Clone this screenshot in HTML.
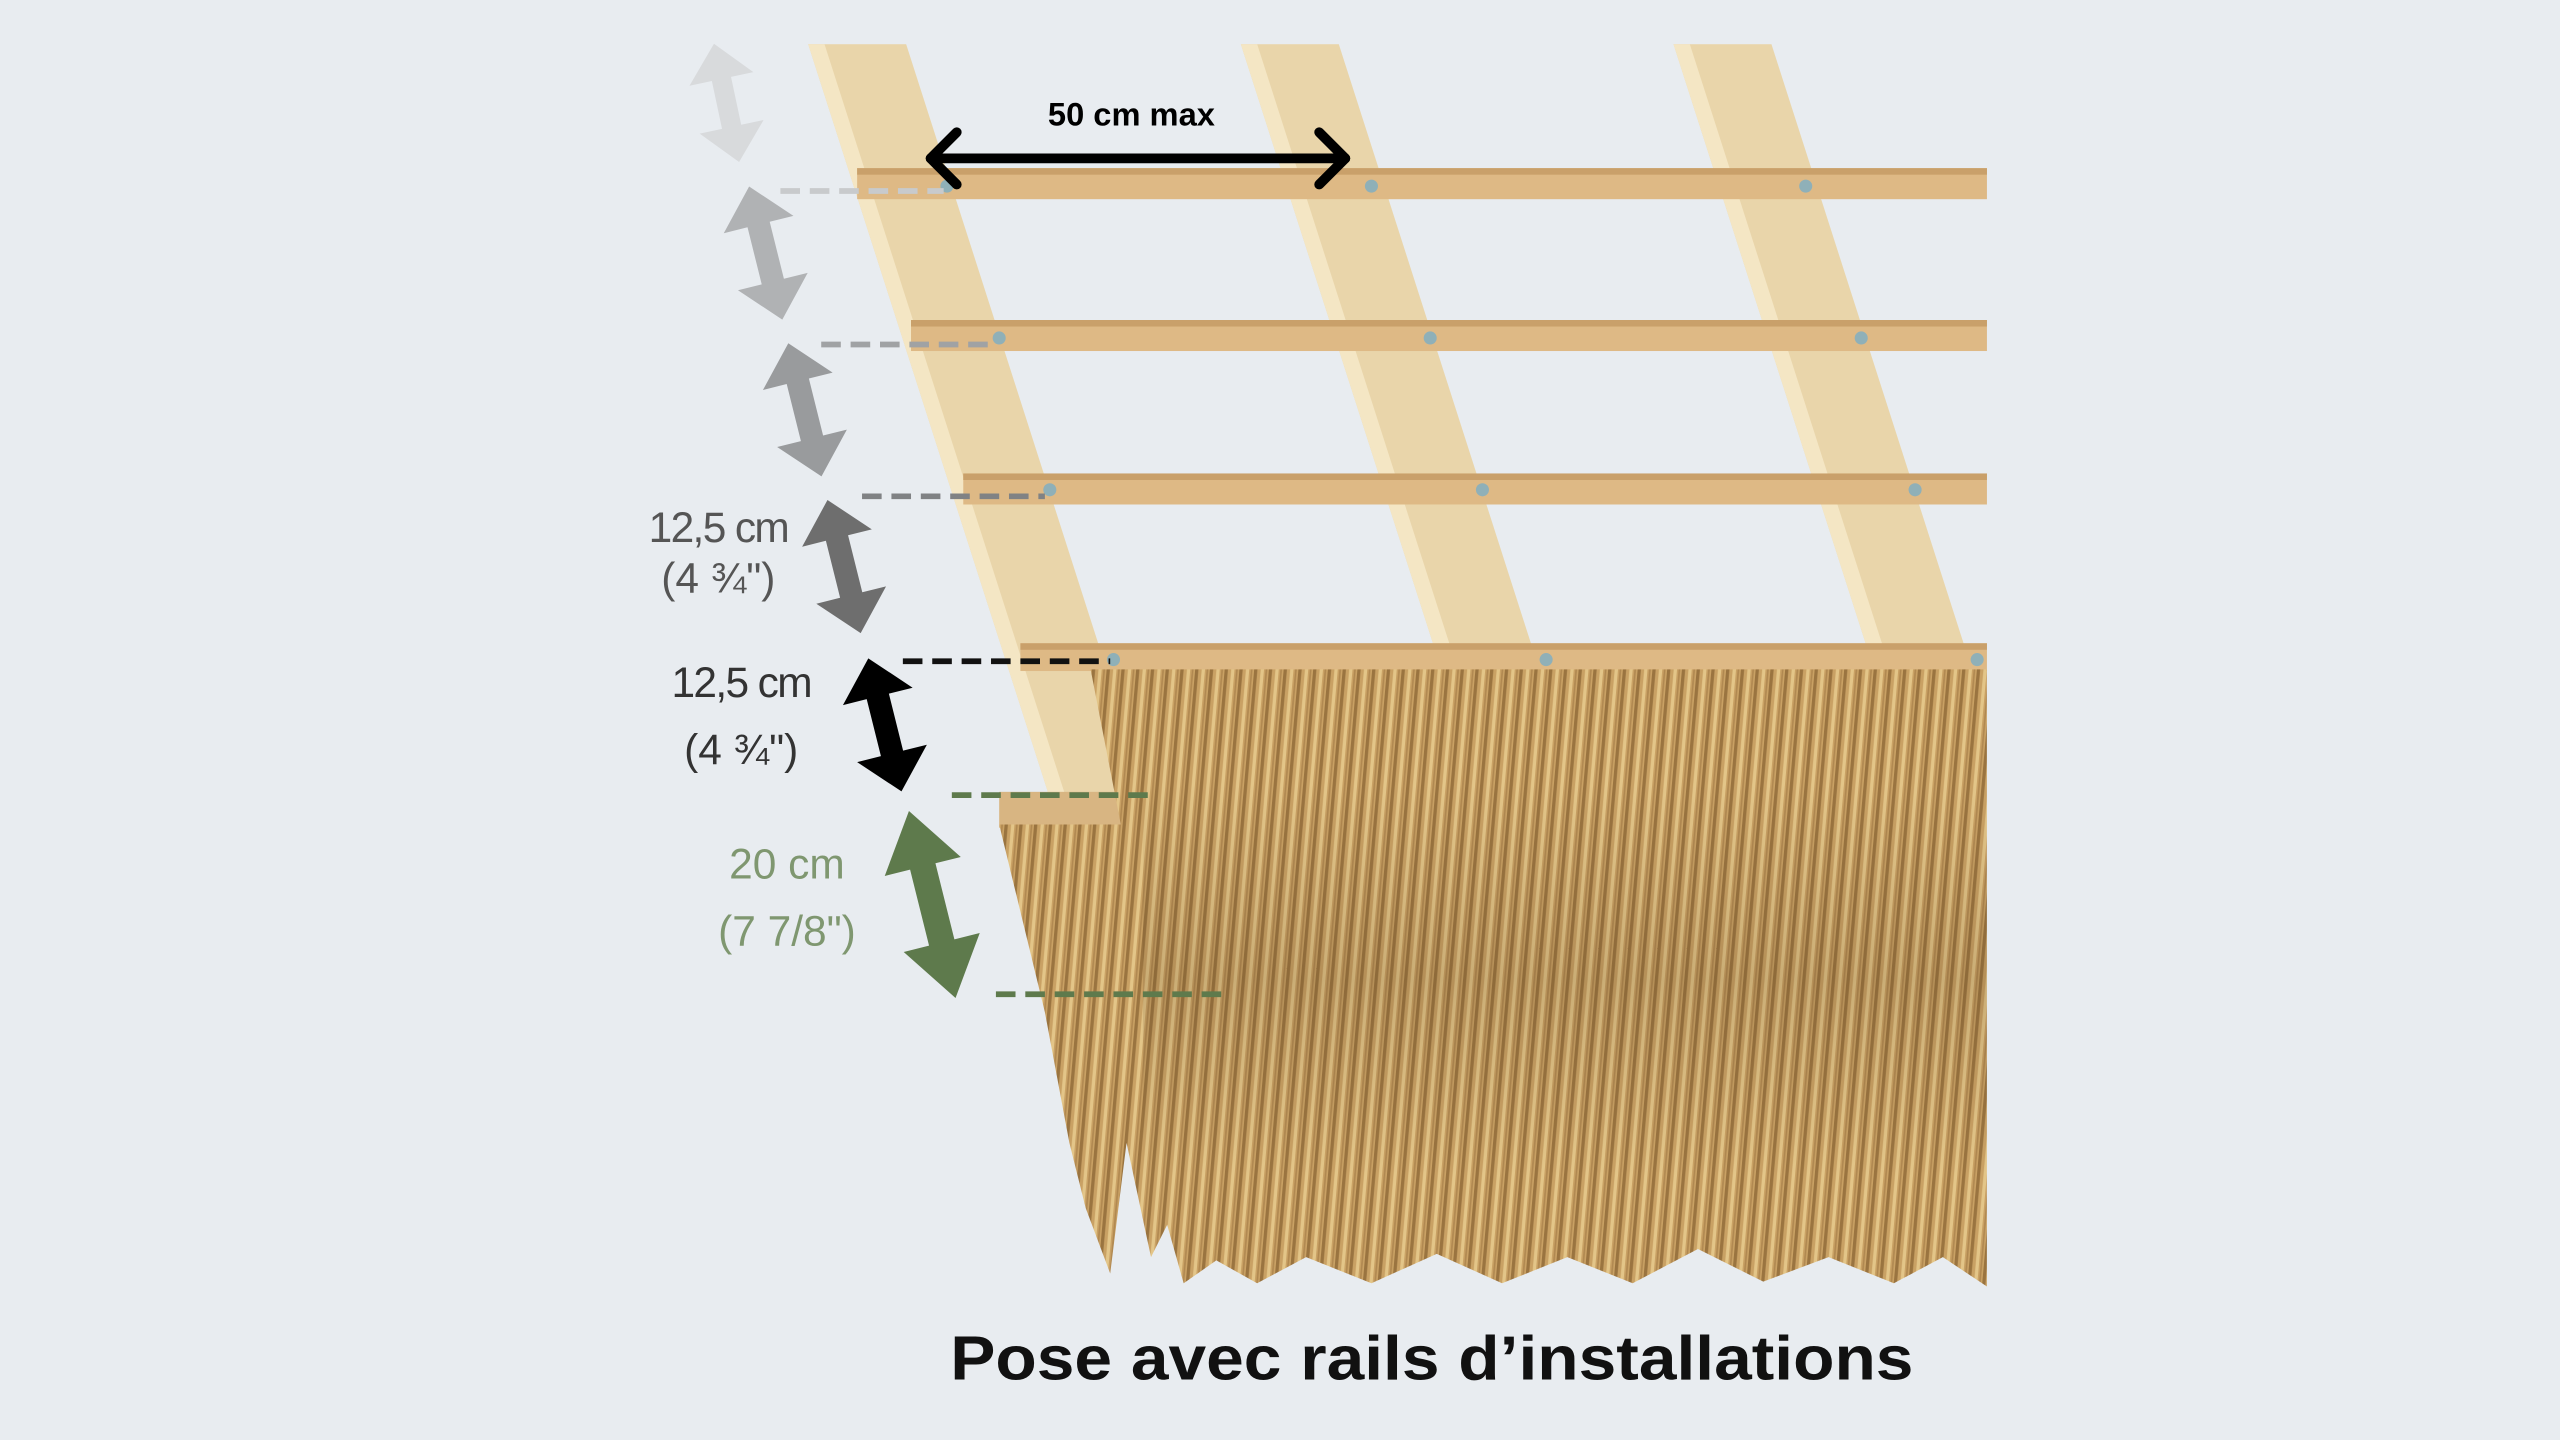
<!DOCTYPE html>
<html><head><meta charset="utf-8"><style>
html,body{margin:0;padding:0;background:#e8ecf0;}
svg{display:block}
</style></head><body>
<svg width="2560" height="1440" viewBox="0 0 1568 882" xmlns="http://www.w3.org/2000/svg">
<defs>
<pattern id="th" width="9" height="60" patternUnits="userSpaceOnUse" patternTransform="rotate(5)">
<rect width="9" height="60" fill="#c9a164"/>
<rect x="0" width="2" height="60" fill="#9a7440"/>
<rect x="4" width="2" height="60" fill="#e3c588"/>
<rect x="7" width="1" height="60" fill="#b08850"/>
</pattern>
<linearGradient id="sh" x1="0" y1="0" x2="0" y2="1">
<stop offset="0" stop-color="#5a4020" stop-opacity="0"/>
<stop offset="0.5" stop-color="#5a4020" stop-opacity="0.18"/>
<stop offset="1" stop-color="#5a4020" stop-opacity="0"/>
</linearGradient>
<clipPath id="cl"><rect x="0" y="27" width="1217" height="855"/></clipPath>
</defs>
<rect width="1568" height="882" fill="#e8ecf0"/>
<g clip-path="url(#cl)">
<polygon points="495,27 555,27 705,495 645,495" fill="#e9d5aa"/>
<polygon points="495,27 505,27 655,495 645,495" fill="#f4e6c4"/>
<polygon points="760,27 820,27 938,395 878,395" fill="#e9d5aa"/>
<polygon points="760,27 770,27 888,395 878,395" fill="#f4e6c4"/>
<polygon points="1025,27 1085,27 1203,395 1143,395" fill="#e9d5aa"/>
<polygon points="1025,27 1035,27 1153,395 1143,395" fill="#f4e6c4"/>
<rect x="525" y="103" width="700" height="19" fill="#deb985"/><rect x="525" y="103" width="700" height="4" fill="#c9a06a"/>
<rect x="558" y="196" width="670" height="19" fill="#deb985"/><rect x="558" y="196" width="670" height="4" fill="#c9a06a"/>
<rect x="590" y="290" width="640" height="19" fill="#deb985"/><rect x="590" y="290" width="640" height="4" fill="#c9a06a"/>
<rect x="625" y="394" width="600" height="17" fill="#deb985"/><rect x="625" y="394" width="600" height="4" fill="#c9a06a"/>
<rect x="612" y="485" width="90" height="22" fill="#d8b582"/>
<g fill="#8fb0b8">
<circle cx="580" cy="114" r="4"/><circle cx="840" cy="114" r="4"/><circle cx="1106" cy="114" r="4"/>
<circle cx="612" cy="207" r="4"/><circle cx="876" cy="207" r="4"/><circle cx="1140" cy="207" r="4"/>
<circle cx="643" cy="300" r="4"/><circle cx="908" cy="300" r="4"/><circle cx="1173" cy="300" r="4"/>
<circle cx="682" cy="404" r="4"/><circle cx="947" cy="404" r="4"/><circle cx="1211" cy="404" r="4"/>
</g>
<polygon points="612,505 700,505 712,600 720,740 705,770 690,700 680,780 665,740 655,700 640,620" fill="url(#th)"/>
<polygon points="668,410 1217,410 1217,788 1190,770 1160,786 1120,770 1080,785 1040,765 1000,786 960,770 920,786 880,768 840,786 800,770 770,786 745,772 725,786 712,740 705,600" fill="url(#th)"/>
<rect x="700" y="480" width="517" height="240" fill="url(#sh)"/>
</g>
<g stroke-width="3.5" fill="none" stroke-dasharray="12,6">
<line x1="478" y1="117" x2="578" y2="117" stroke="#c8cacc"/>
<line x1="503" y1="211" x2="610" y2="211" stroke="#a0a2a4"/>
<line x1="528" y1="304" x2="640" y2="304" stroke="#808284"/>
<line x1="553" y1="405" x2="680" y2="405" stroke="#111"/>
<line x1="583" y1="487" x2="705" y2="487" stroke="#5e7a4c"/>
<line x1="610" y1="609" x2="752" y2="609" stroke="#5e7a4c"/>
</g>
<g>
<polygon transform="translate(445,63) rotate(-12)" points="0,-37 20,-15 6,-15 6,15 20,15 0,37 -20,15 -6,15 -6,-15 -20,-15" fill="#d8dadc"/>
<polygon transform="translate(469,155) rotate(-14)" points="0,-42 22,-18 7,-18 7,18 22,18 0,42 -22,18 -7,18 -7,-18 -22,-18" fill="#b0b2b4"/>
<polygon transform="translate(493,251) rotate(-14)" points="0,-42 22,-18 7,-18 7,18 22,18 0,42 -22,18 -7,18 -7,-18 -22,-18" fill="#999b9d"/>
<polygon transform="translate(517,347) rotate(-14)" points="0,-42 22,-18 7,-18 7,18 22,18 0,42 -22,18 -7,18 -7,-18 -22,-18" fill="#6e6e6e"/>
<polygon transform="translate(542,444) rotate(-14)" points="0,-42 22,-18 7,-18 7,18 22,18 0,42 -22,18 -7,18 -7,-18 -22,-18" fill="#000"/>
<polygon transform="translate(571,554) rotate(-14)" points="0,-59 24,-24 8,-24 8,24 24,24 0,59 -24,24 -8,24 -8,-24 -24,-24" fill="#5e7a4c"/>
</g>
<g stroke="#000" stroke-width="6" stroke-linecap="round" stroke-linejoin="round" fill="none">
<line x1="570" y1="97" x2="824" y2="97"/>
<polyline points="586,81 570,97 586,113"/>
<polyline points="808,81 824,97 808,113"/>
</g>
<g font-family="Liberation Sans, sans-serif">
<text x="693" y="77" font-size="20" font-weight="bold" text-anchor="middle" fill="#000">50 cm max</text>
<text x="440" y="332" font-size="26" text-anchor="middle" fill="#555" letter-spacing="-1">12,5 cm</text>
<text x="440" y="363" font-size="26" text-anchor="middle" fill="#555">(4 ¾")</text>
<text x="454" y="427" font-size="26" text-anchor="middle" fill="#333" letter-spacing="-1">12,5 cm</text>
<text x="454" y="468" font-size="26" text-anchor="middle" fill="#333">(4 ¾")</text>
<text x="482" y="538" font-size="26" text-anchor="middle" fill="#7f9770">20 cm</text>
<text x="482" y="579" font-size="26" text-anchor="middle" fill="#7f9770">(7 7/8")</text>
<text x="877" y="845" font-size="38" font-weight="bold" text-anchor="middle" fill="#111" textLength="590" lengthAdjust="spacingAndGlyphs">Pose avec rails d’installations</text>
</g>
</svg>
</body></html>
